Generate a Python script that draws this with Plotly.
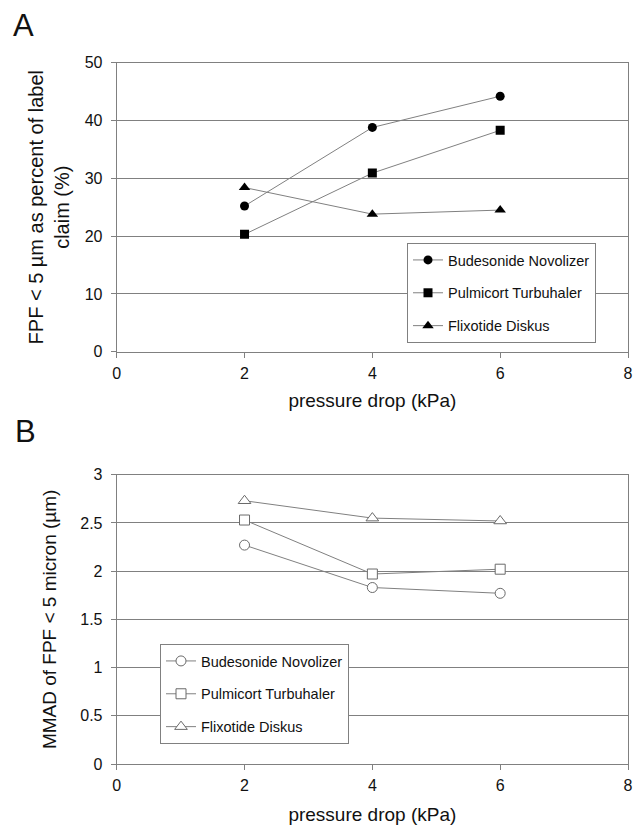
import plotly.graph_objects as go

# ---- data ----
pressure = [2, 4, 6]
fpf_budesonide = [25.2, 38.8, 44.2]
fpf_pulmicort = [20.3, 30.9, 38.3]
fpf_flixotide = [28.4, 23.8, 24.5]

mmad_budesonide = [2.27, 1.83, 1.77]
mmad_pulmicort = [2.53, 1.97, 2.02]
mmad_flixotide = [2.73, 2.55, 2.52]

names = ["Budesonide Novolizer", "Pulmicort Turbuhaler", "Flixotide Diskus"]
x_ticks = [0, 2, 4, 6, 8]
fpf_ticks = [0, 10, 20, 30, 40, 50]
mmad_ticks = [0, 0.5, 1, 1.5, 2, 2.5, 3]

FONT = "Liberation Sans, Arial, sans-serif"
LINE = "#808080"
GRID = "#808080"

W, H = 637, 825
def px_x(v):
    return v / W
def px_y(v):
    return 1 - v / H

fig = go.Figure()

symbols_top = ["circle", "square", "triangle-up"]
sizes_top = [9, 9, 10]
for name, ys, sym, sz in zip(names, [fpf_budesonide, fpf_pulmicort, fpf_flixotide], symbols_top, sizes_top):
    fig.add_trace(go.Scatter(
        x=pressure, y=ys, name=name, mode="lines+markers",
        line=dict(color=LINE, width=1),
        marker=dict(symbol=sym, size=sz, color="black"),
        xaxis="x", yaxis="y", legend="legend", legendgroup="a" + name,
    ))

symbols_bot = ["circle", "square", "triangle-up"]
sizes_bot = [10, 10, 11]
for name, ys, sym, sz in zip(names, [mmad_budesonide, mmad_pulmicort, mmad_flixotide], symbols_bot, sizes_bot):
    fig.add_trace(go.Scatter(
        x=pressure, y=ys, name=name, mode="lines+markers",
        line=dict(color=LINE, width=1),
        marker=dict(symbol=sym, size=sz, color="white", line=dict(color="#6a6a6a", width=1)),
        xaxis="x2", yaxis="y2", legend="legend2", legendgroup="b" + name,
    ))

xdom = [px_x(116.7), px_x(628)]
axis_common = dict(
    showline=True, linecolor=LINE, linewidth=1, mirror=True,
    ticks="outside", ticklen=5, tickcolor=LINE, tickwidth=1,
    tickfont=dict(family=FONT, size=16, color="#111"),
    zeroline=False,
)

legend_common = dict(
    xanchor="left", yanchor="top",
    bordercolor=LINE, borderwidth=1, bgcolor="white",
    font=dict(family=FONT, size=14.5, color="#111"), tracegroupgap=11,
    itemwidth=30,
)

fig.update_layout(
    width=W, height=H,
    margin=dict(l=0, r=0, t=0, b=0, autoexpand=False),
    plot_bgcolor="white", paper_bgcolor="white",
    font=dict(family=FONT, color="#111"),
    showlegend=True,
    xaxis=dict(domain=xdom, range=[0, 8], tickvals=x_ticks, showgrid=False, anchor="y",
               ticklabelstandoff=2,
               title=dict(text="pressure drop (kPa)", font=dict(family=FONT, size=19), standoff=12),
               **axis_common),
    yaxis=dict(domain=[px_y(351.7), px_y(62.7)], range=[0, 50], tickvals=fpf_ticks,
               showgrid=True, gridcolor=GRID, gridwidth=1, anchor="x",
               ticklabelstandoff=5,
               title=dict(text="FPF < 5 µm as percent of label<br>claim (%)", font=dict(family=FONT, size=20), standoff=9),
               **axis_common),
    xaxis2=dict(domain=xdom, range=[0, 8], tickvals=x_ticks, showgrid=False, anchor="y2",
                ticklabelstandoff=2,
                title=dict(text="pressure drop (kPa)", font=dict(family=FONT, size=19), standoff=14),
                **axis_common),
    yaxis2=dict(domain=[px_y(764), px_y(474.7)], range=[0, 3], tickvals=mmad_ticks,
                showgrid=True, gridcolor=GRID, gridwidth=1, anchor="x2",
                ticklabelstandoff=5,
                title=dict(text="MMAD of FPF < 5 micron (µm)", font=dict(family=FONT, size=19), standoff=18),
                **axis_common),
    legend=dict(x=px_x(407), y=px_y(243), **legend_common),
    legend2=dict(x=px_x(160), y=px_y(644), **legend_common),
    annotations=[
        dict(text="A", x=px_x(11), y=px_y(26), xref="paper", yref="paper",
             xanchor="left", yanchor="middle", showarrow=False,
             font=dict(family=FONT, size=31, color="#111")),
        dict(text="B", x=px_x(13), y=px_y(431), xref="paper", yref="paper",
             xanchor="left", yanchor="middle", showarrow=False,
             font=dict(family=FONT, size=31, color="#111")),
    ],
)

fig.write_html("out.html", config={"displayModeBar": False},
               post_script="document.body.style.margin='0';document.body.style.overflow='hidden';")
